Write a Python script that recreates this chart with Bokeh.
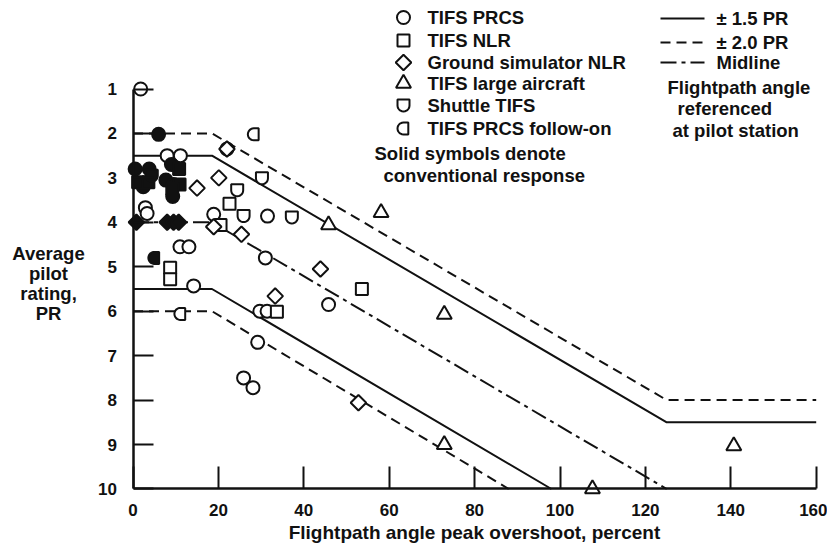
import numpy as np
from bokeh.plotting import figure
from bokeh.models import Range1d, FixedTicker, Label
from bokeh.embed import file_html
from bokeh.resources import INLINE

# ---------------- data ----------------
x_ticks = [0, 20, 40, 60, 80, 100, 120, 140, 160]
y_ticks = [1, 2, 3, 4, 5, 6, 7, 8, 9, 10]

# TIFS PRCS (circles)
prcs_open_x = [1.8, 8.0, 11.1, 22.0, 2.9, 3.3, 18.9, 31.5, 11.0, 13.1, 31.0, 14.2, 45.8, 29.7, 31.4, 29.2, 25.9, 28.1]
prcs_open_y = [1.0, 2.5, 2.5, 2.35, 3.67, 3.8, 3.82, 3.86, 4.55, 4.55, 4.8, 5.43, 5.85, 6.0, 6.0, 6.7, 7.5, 7.72]
prcs_solid_x = [6.0, 0.5, 3.8, 2.4, 9.0, 7.7, 9.5, 9.3]
prcs_solid_y = [2.02, 2.8, 2.8, 3.2, 2.7, 3.05, 3.15, 3.42]

# TIFS NLR (squares)
nlr_open_x = [22.6, 20.5, 8.7, 8.7, 53.6, 33.7]
nlr_open_y = [3.58, 4.06, 5.02, 5.28, 5.5, 6.01]
nlr_solid_x = [1.2, 3.6, 10.8, 10.9, 9.2]
nlr_solid_y = [3.1, 3.1, 2.8, 3.15, 3.25]

# Ground simulator NLR (diamonds)
gsim_open_x = [22.0, 20.1, 15.0, 18.9, 25.4, 43.9, 33.3, 52.8]
gsim_open_y = [2.35, 3.0, 3.23, 4.1, 4.27, 5.05, 5.66, 8.06]
gsim_solid_x = [0.8, 8.0, 9.5, 10.7]
gsim_solid_y = [4.0, 4.0, 4.0, 4.0]

# TIFS large aircraft (triangles)
large_x = [45.8, 58.1, 72.9, 72.9, 107.6, 140.7]
large_y = [4.06, 3.78, 6.07, 9.0, 10.0, 9.03]

# Shuttle TIFS
shuttle_open_x = [30.2, 24.4, 25.9, 37.2]
shuttle_open_y = [3.01, 3.28, 3.86, 3.89]
shuttle_solid_x = [4.4]
shuttle_solid_y = [2.95]

# TIFS PRCS follow-on
follow_open_x = [28.3, 11.1]
follow_open_y = [2.02, 6.06]
follow_solid_x = [5.0]
follow_solid_y = [4.8]

# Boundary lines
up_x = [0, 18.5, 125, 160]
up20_y = [2.0, 2.0, 8.0, 8.0]
up15_y = [2.5, 2.5, 8.5, 8.5]
mid_x = [0, 18.5, 125]
mid_y = [4.0, 4.0, 10.0]
lo15_x = [0, 18.5, 98]
lo15_y = [5.5, 5.5, 10.0]
lo20_x = [0, 18.5, 88]
lo20_y = [6.0, 6.0, 10.0]

# ---------------- layout ----------------
W, H = 827, 544
SX = 4.27          # px per percent
SY = 44.444        # px per rating step
X_ZERO_PX = 132.5  # canvas x of 0 %
Y_ONE_PX = 88.5    # canvas y of PR 1
X0 = -X_ZERO_PX / SX
X1 = X0 + W / SX
YTOP = 1 - Y_ONE_PX / SY
YBOT = YTOP + H / SY

FONT = "Liberation Sans"
INK = "#111111"
FS = "18.5px"


def px2x(px):
    return X0 + px / SX


def py2y(py):
    return YTOP + py / SY


p = figure(width=W, height=H, x_range=Range1d(X0, X1), y_range=Range1d(YBOT, YTOP),
           output_backend="svg", toolbar_location=None, title=None,
           min_border_left=0, min_border_right=0, min_border_top=0, min_border_bottom=0)
p.xgrid.visible = False
p.ygrid.visible = False
p.outline_line_color = None

for ax, loc, bnd, ticks, tin, stand in ((p.xaxis, 10, (0, 160), x_ticks, 22, 15),
                                         (p.yaxis, 0, (1, 10), y_ticks, 20, 16)):
    ax.fixed_location = loc
    ax.bounds = bnd
    ax.ticker = FixedTicker(ticks=ticks)
    ax.major_tick_in = tin
    ax.major_tick_out = 0
    ax.minor_tick_line_color = None
    ax.axis_line_width = 2.5
    ax.axis_line_color = INK
    ax.major_tick_line_width = 2
    ax.major_tick_line_color = INK
    ax.major_label_standoff = stand
    ax.major_label_text_font = FONT
    ax.major_label_text_font_style = "bold"
    ax.major_label_text_font_size = "17px"
    ax.major_label_text_color = INK

# lines
LW = 2
p.line(up_x, up20_y, line_color=INK, line_width=LW, line_dash="10 6")
p.line(up_x, up15_y, line_color=INK, line_width=LW)
p.line(mid_x, mid_y, line_color=INK, line_width=LW, line_dash="16 5 4 5")
p.line(lo15_x, lo15_y, line_color=INK, line_width=LW)
p.line(lo20_x, lo20_y, line_color=INK, line_width=LW, line_dash="10 6")


# custom D-like symbol shapes built around each point (size in pixels)
def bowl(xs, ys, r=6.0):
    outx, outy = [], []
    t = np.linspace(0, np.pi, 13)
    for x, y in zip(xs, ys):
        px = [-r, r] + list(r * np.cos(t)) + [-r]
        py = [-r, -r] + list(r * np.sin(t)) + [-r]
        outx.append([x + a / SX for a in px])
        outy.append([y + b / SY for b in py])
    return outx, outy


def dleft(xs, ys, r=6.0):
    outx, outy = [], []
    t = np.linspace(np.pi / 2, 3 * np.pi / 2, 13)
    for x, y in zip(xs, ys):
        px = [r * 0.8, r * 0.8] + list(r * np.cos(t)) + [r * 0.8]
        py = [-r, r] + list(r * np.sin(t)) + [-r]
        outx.append([x + a / SX for a in px])
        outy.append([y + b / SY for b in py])
    return outx, outy


def circles(xs, ys, fill):
    p.scatter(xs, ys, marker="circle", size=13, fill_color=fill, line_color=INK, line_width=2)


def squares(xs, ys, fill):
    p.scatter(xs, ys, marker="square", size=12, fill_color=fill, line_color=INK, line_width=2)


def diamonds(xs, ys, fill):
    p.scatter(xs, ys, marker="square", angle=np.pi / 4, size=11, fill_color=fill, line_color=INK, line_width=2)


def triangles(xs, ys, fill):
    p.scatter(xs, ys, marker="triangle", size=15, fill_color=fill, line_color=INK, line_width=2)


def shuttles(xs, ys, fill):
    sx_, sy_ = bowl(xs, ys)
    p.patches(sx_, sy_, fill_color=fill, line_color=INK, line_width=2)


def follows(xs, ys, fill):
    fx_, fy_ = dleft(xs, ys)
    p.patches(fx_, fy_, fill_color=fill, line_color=INK, line_width=2)


circles(prcs_open_x, prcs_open_y, "white")
squares(nlr_open_x, nlr_open_y, "white")
diamonds(gsim_open_x, gsim_open_y, "white")
triangles(large_x, large_y, "white")
shuttles(shuttle_open_x, shuttle_open_y, "white")
follows(follow_open_x, follow_open_y, "white")

circles(prcs_solid_x, prcs_solid_y, INK)
squares(nlr_solid_x, nlr_solid_y, INK)
diamonds(gsim_solid_x, gsim_solid_y, INK)
shuttles(shuttle_solid_x, shuttle_solid_y, INK)
follows(follow_solid_x, follow_solid_y, INK)


def text(txt, tx, ty, align="left", size=FS):
    p.add_layout(Label(x=px2x(tx), y=py2y(ty), text=txt, text_font=FONT, text_font_style="bold",
                       text_font_size=size, text_baseline="middle", text_align=align, text_color=INK))


# ---------------- legend ----------------
legend_names = ["TIFS PRCS", "TIFS NLR", "Ground simulator NLR", "TIFS large aircraft",
                "Shuttle TIFS", "TIFS PRCS follow-on"]
legend_draw = [circles, squares, diamonds, triangles, shuttles, follows]
row_y = [17, 40, 62, 83, 105, 128]
for name, fn, ry in zip(legend_names, legend_draw, row_y):
    fn([px2x(403)], [py2y(ry)], "white")
    text(name, 427, ry)

text("Solid symbols denote", 374, 153)
text("conventional response", 383, 175)

line_legend = [("\u00b1 1.5 PR", None, 18), ("\u00b1 2.0 PR", "10 6", 42), ("Midline", "16 5 4 5", 62)]
for txt, dash, ly in line_legend:
    kw = {} if dash is None else {"line_dash": dash}
    p.line([px2x(660), px2x(704)], [py2y(ly), py2y(ly)], line_color=INK, line_width=LW, **kw)
    text(txt, 716, ly)

text("Flightpath angle", 667, 87)
text("referenced", 677, 108)
text("at pilot station", 672, 130)

# axis titles
text("Flightpath angle peak overshoot, percent", 474, 532, align="center", size="19px")
for txt, ty in (("Average", 253), ("pilot", 273), ("rating,", 293), ("PR", 313)):
    text(txt, 48, ty, align="center")

open("out.html", "w").write(file_html(p, INLINE))
